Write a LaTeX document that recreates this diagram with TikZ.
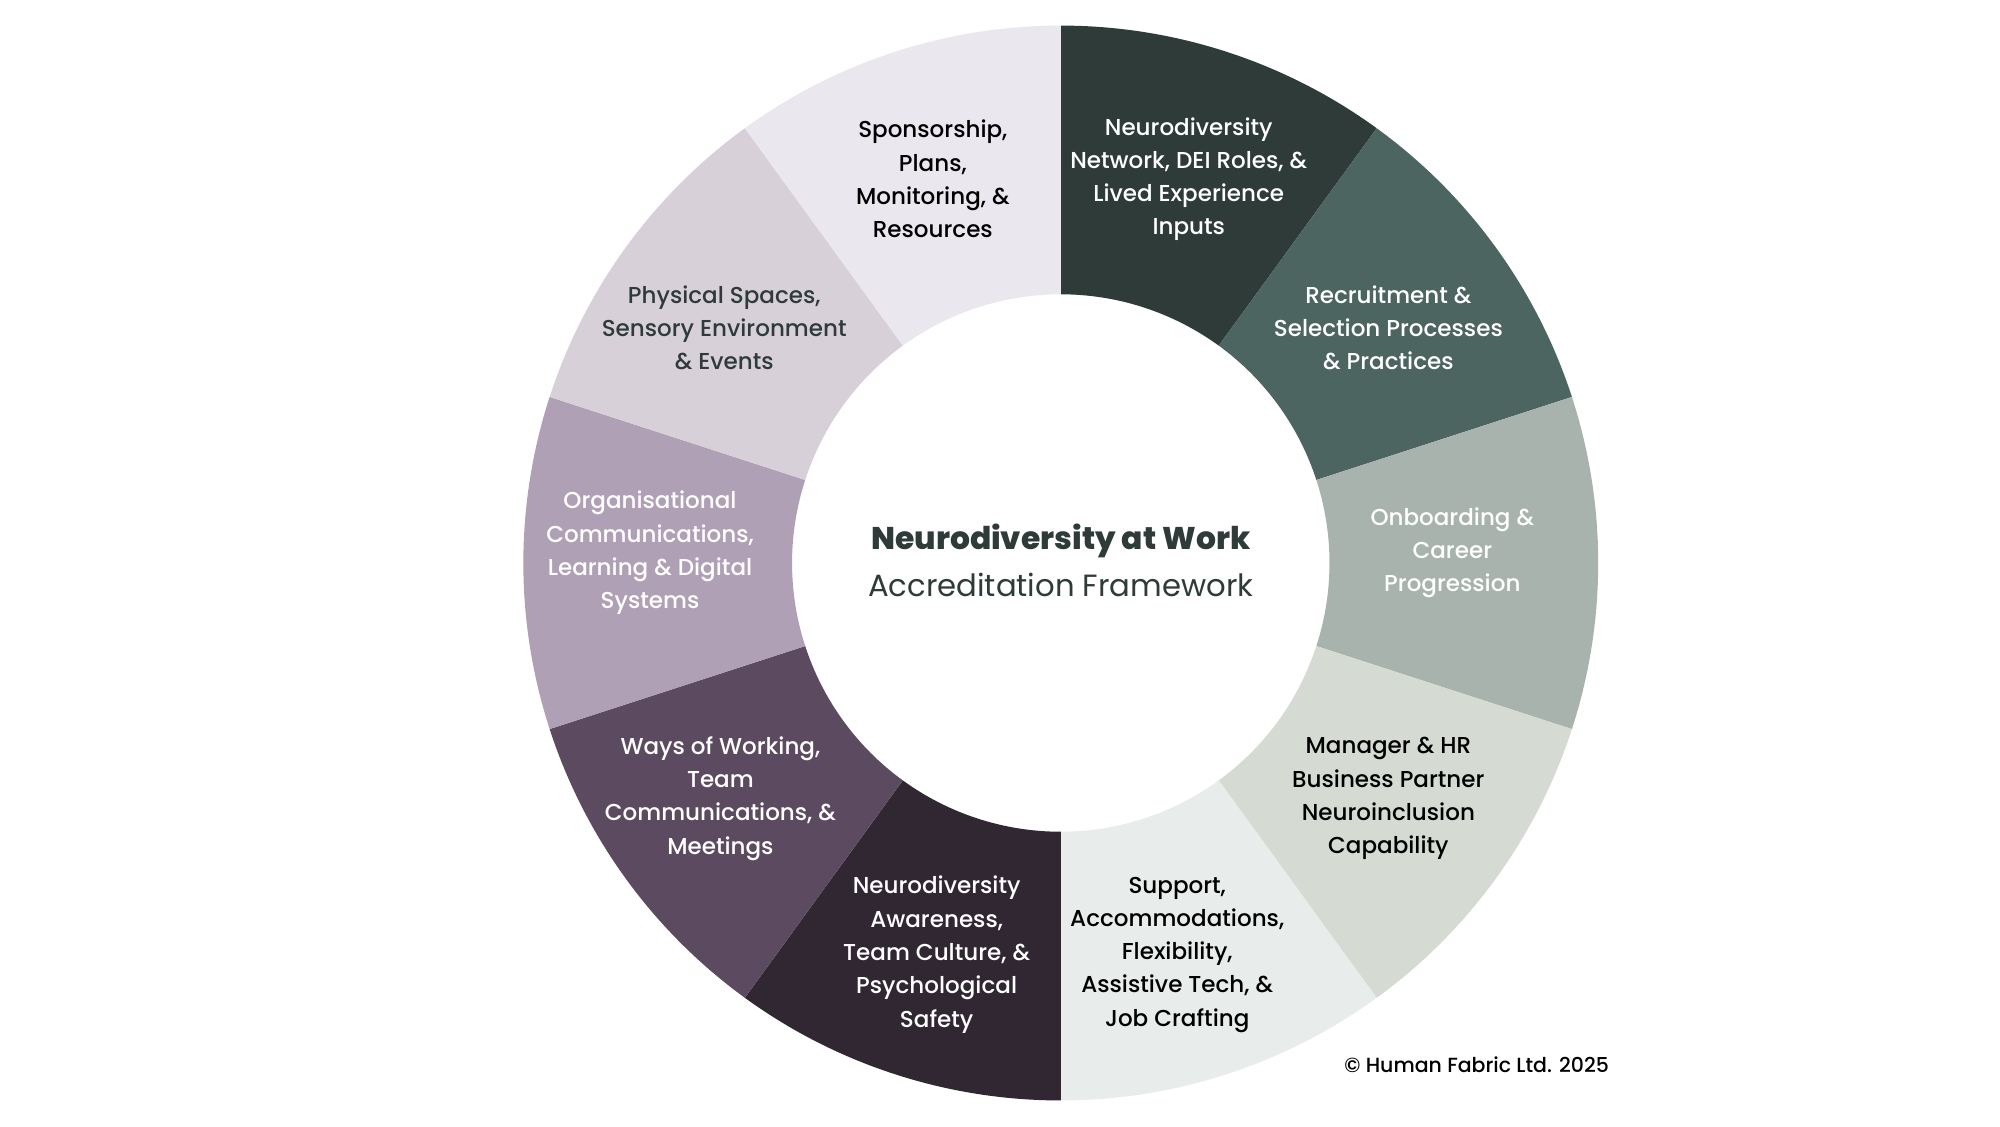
\documentclass[tikz,border=0pt]{standalone}
\usepackage{fontspec}
\setmainfont{Poppins}
\newfontfamily\med{Poppins Medium}
\newfontfamily\xbold{Poppins ExtraBold}
\begin{document}
\begin{tikzpicture}[x=1pt,y=1pt,
  lbl/.style={align=center,font=\med\fontsize{18}{26}\selectfont}]
\useasboundingbox[fill=white] (-829,-440) rectangle (734,440);
\definecolor{c1}{HTML}{2F3B38}\definecolor{c2}{HTML}{4D6560}
\definecolor{c3}{HTML}{A9B3AD}\definecolor{c4}{HTML}{D5DAD3}
\definecolor{c5}{HTML}{E8ECEA}\definecolor{c6}{HTML}{302733}
\definecolor{c7}{HTML}{5C4B60}\definecolor{c8}{HTML}{B0A0B5}
\definecolor{c9}{HTML}{D8D0D9}\definecolor{c10}{HTML}{EAE7EE}
\definecolor{tdark}{HTML}{2F3B38}
\foreach \i in {1,...,10}{
  \pgfmathsetmacro\a{90-36*(\i-1)}
  \pgfmathsetmacro\b{\a-36}
  \fill[c\i] (\a:420) arc[start angle=\a,end angle=\b,radius=420] -- (\b:210) arc[start angle=\b,end angle=\a,radius=210] -- cycle;
}
\node[lbl,text=white] (n1) at (100,300) {Neurodiversity\\Network, DEI Roles, \&\\Lived Experience\\Inputs};
\node[lbl,text=white] (n2) at (256,184) {Recruitment \&\\Selection Processes\\\& Practices};
\node[lbl,text=white] (n3) at (306,8) {Onboarding \&\\Career\\Progression};
\node[lbl,text=black] (n4) at (256,-184) {Manager \& HR\\Business Partner\\Neuroinclusion\\Capability};
\node[lbl,text=black] (n5) at (91,-306) {Support,\\Accommodations,\\Flexibility,\\Assistive Tech, \&\\Job Crafting};
\node[lbl,text=white] (n6) at (-97,-306) {Neurodiversity\\Awareness,\\Team Culture, \&\\Psychological\\Safety};
\node[lbl,text=white] (n7) at (-266,-184) {Ways of Working,\\Team\\Communications, \&\\Meetings};
\node[lbl,text=white] (n8) at (-321,8) {Organisational\\Communications,\\Learning \& Digital\\Systems};
\node[lbl,text=tdark] (n9) at (-263,184) {Physical Spaces,\\Sensory Environment\\\& Events};
\node[lbl,text=black] (n10) at (-100,300) {Sponsorship,\\Plans,\\Monitoring, \&\\Resources};
\node[text=tdark,font=\xbold\fontsize{24.5}{28}\selectfont] (t) at (0,17) {Neurodiversity at Work};
\node[text=tdark,font=\fontsize{24}{28}\selectfont] (s) at (0,-17) {Accreditation Framework};
\node[font=\med\fontsize{16}{20}\selectfont] (c) at (325,-392) {© Human Fabric Ltd. 2025};
\end{tikzpicture}
\end{document}
